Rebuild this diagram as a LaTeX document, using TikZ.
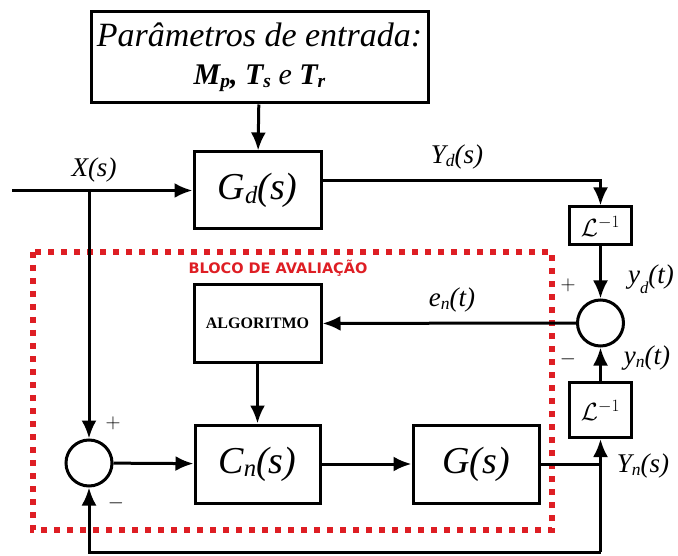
\documentclass[tikz,border=0pt]{standalone}
\usepackage{fontspec}
\setmainfont{Liberation Serif}
\newfontfamily\blocofont{DejaVu Sans}
\usepackage{graphicx}
\usetikzlibrary{arrows.meta}
\definecolor{avalred}{RGB}{222,30,36}
\newcommand{\ix}[1]{\raisebox{-0.1em}{\scalebox{0.65}{#1}}}
\newcommand{\lowix}[1]{\raisebox{-0.35em}{\scalebox{0.62}{#1}}}

\begin{document}
\begin{tikzpicture}[x=1pt,y=-1pt,
    blk/.style={draw, line width=3pt, inner sep=0pt},
    sumc/.style={draw, circle, line width=3pt, minimum size=46pt, inner sep=0pt},
    lbl/.style={font=\fontsize{27}{30}\selectfont\itshape},
    big/.style={font=\fontsize{38}{40}\selectfont\itshape},
    sgn/.style={font=\fontsize{22}{24}\selectfont},
    wire/.style={line width=3pt},
    flow/.style={wire, -{Latex[length=18pt,width=15pt]}},
    aval/.style={draw=avalred, line width=5.5pt, dash pattern=on 6pt off 7pt}]
        \useasboundingbox (0,0) rectangle (678,556);

        % bloco de avaliacao
        \draw[aval] (33,252) rectangle (552,530);
        \node[text=avalred, font=\blocofont\bfseries\fontsize{14.5}{16}\selectfont] (bloco) at (278,268) {BLOCO DE AVALIAÇÃO};

        \node[blk, minimum width=337, minimum height=91, align=center, font=\fontsize{34}{38}\selectfont\itshape] (par) at (259.5,57.5)
          {Parâmetros de entrada:\\ {\fontsize{30}{38}\selectfont\bfseries M\ix{p}, T\ix{s} {\mdseries e} T\ix{r}}};
        \node[blk, big, minimum width=127, minimum height=77] (gd) at (257.5,190.5) {G\ix{d}(s)};
        \node[blk, minimum width=127, minimum height=77, font=\fontsize{16}{18}\selectfont\bfseries] (alg) at (257.5,323.5) {ALGORITMO};
        \node[blk, big, minimum width=125, minimum height=78] (cn) at (257.5,464) {C\ix{n}(s)};
        \node[blk, big, minimum width=126, minimum height=78] (g) at (476,464) {G(s)};
        \foreach \n/\y/\h in {1/226/38, 2/410/55}
          \node[blk, minimum width=62, minimum height=\h, font=\fontsize{25}{27}\selectfont] (lp\n) at (600.5,\y) {$\mathcal{L}^{-1}$};
        \node[sumc] (s1) at (89,463) {};
        \node[sumc] (s2) at (600.5,323) {};

        % sinais
        \node[lbl] (xs) at (94,170) {X(s)};
        \node[lbl] (yds) at (457,157) {Y\ix{d}(s)};
        \node[lbl] (ent) at (452,300) {e\ix{n}(t)};
        \node[lbl] (ydt) at (651,279) {y\lowix{d}(t)};
        \node[lbl] (ynt) at (647,358) {y\ix{n}(t)};
        \node[lbl] (yns) at (643,466) {Y\ix{n}(s)};
        \foreach \s/\x/\y [count=\i] in {+/568/285, -/568/359, +/113/423, -/116/503}
          \node[sgn] (sg\i) at (\x,\y) {$\s$};

        \coordinate (xin) at (12,190.5);
        \coordinate (xb) at (89,190.5);
        \coordinate (yn) at (600.5,464);
        \coordinate (fb) at (600.5,552);

        \draw[flow] (par) -- (gd);
        \draw[flow] (xin) -- (gd);
        \draw[flow] (xb) -- (s1);
        \draw[flow] ([yshift=10pt]gd.east) -| (lp1);
        \draw[flow] (lp1) -- (s2);
        \draw[flow] (s2) -- (alg);
        \draw[flow] (alg) -- (cn);
        \draw[flow] (s1) -- (cn);
        \draw[flow] (cn) -- (g);
        \draw[wire] (g) -- (yn);
        \draw[flow] (fb) -- (lp2);
        \draw[flow] (lp2) -- (s2);
        \draw[flow] (fb) -| (s1);
\end{tikzpicture}
\end{document}
